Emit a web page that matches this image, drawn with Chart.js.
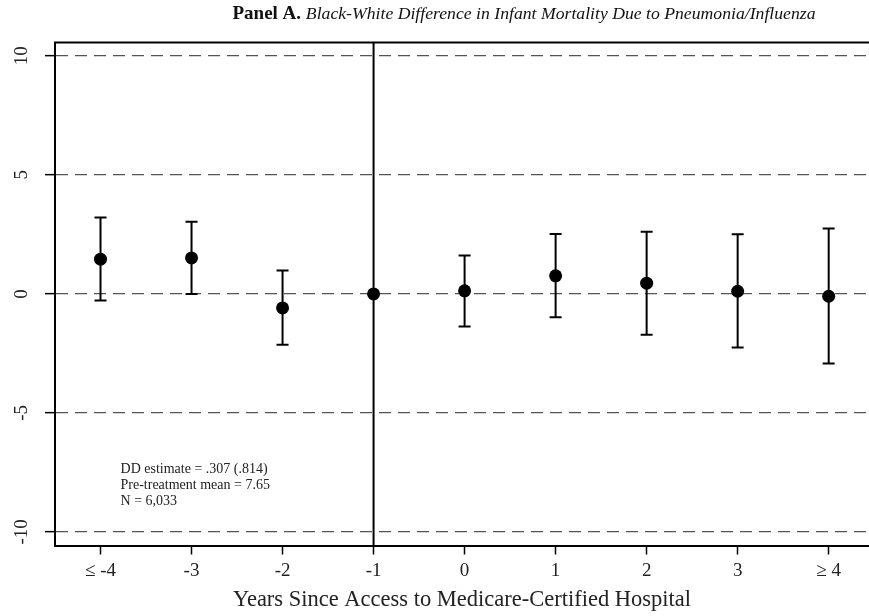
<!DOCTYPE html>
<html>
<head>
<meta charset="utf-8">
<script src="https://cdn.jsdelivr.net/npm/chart.js@4"></script>
<style>
html, body { margin: 0; padding: 0; background: #fff; }
#wrap { width: 869px; height: 616px; }
</style>
</head>
<body>
<div id="wrap"><canvas id="chart" width="869" height="616"></canvas></div>
<script>
const years = [-4, -3, -2, -1, 0, 1, 2, 3, 4];
const yearLabels = ['≤ -4', '-3', '-2', '-1', '0', '1', '2', '3', '≥ 4'];
const estimates = [1.46, 1.51, -0.59, 0, 0.13, 0.76, 0.45, 0.11, -0.10];
const ciLow = [-0.28, 0.0, -2.14, null, -1.37, -0.98, -1.72, -2.25, -2.92];
const ciHigh = [3.21, 3.03, 0.98, null, 1.61, 2.52, 2.61, 2.50, 2.75];
const yTicks = [-10, -5, 0, 5, 10];
const notes = ['DD estimate = .307 (.814)', 'Pre-treatment mean = 7.65', 'N = 6,033'];

const SERIF = "'Liberation Serif', 'DejaVu Serif', serif";

// error bars, the -1 reference line, frame top, rotated y labels, title, notes
const extras = {
    id: 'extras',
    beforeDatasetsDraw(chart) {
        const ctx = chart.ctx;
        const xs = chart.scales.x, ys = chart.scales.y;
        const area = chart.chartArea;
        ctx.save();
        ctx.strokeStyle = '#000';
        ctx.lineWidth = 2;
        // vertical line at -1
        const vx = xs.getPixelForValue(-1);
        ctx.beginPath();
        ctx.moveTo(vx, area.top);
        ctx.lineTo(vx, area.bottom);
        ctx.stroke();
        // confidence intervals
        for (let i = 0; i < years.length; i++) {
            if (ciLow[i] === null) continue;
            const x = xs.getPixelForValue(years[i]);
            const lo = ys.getPixelForValue(ciLow[i]);
            const hi = ys.getPixelForValue(ciHigh[i]);
            ctx.beginPath();
            ctx.moveTo(x, lo); ctx.lineTo(x, hi);
            ctx.moveTo(x - 6, lo); ctx.lineTo(x + 6, lo);
            ctx.moveTo(x - 6, hi); ctx.lineTo(x + 6, hi);
            ctx.stroke();
        }
        ctx.restore();
    },
    afterDraw(chart) {
        const ctx = chart.ctx;
        const xs = chart.scales.x, ys = chart.scales.y;
        const area = chart.chartArea;
        ctx.save();
        // top of the frame
        ctx.strokeStyle = '#000';
        ctx.lineWidth = 2;
        ctx.beginPath();
        ctx.moveTo(area.left - 1, area.top);
        ctx.lineTo(area.right, area.top);
        ctx.stroke();

        // y tick labels, rotated
        ctx.fillStyle = '#222';
        ctx.font = '19px ' + SERIF;
        ctx.textAlign = 'center';
        ctx.textBaseline = 'middle';
        yTicks.forEach(v => {
            ctx.save();
            ctx.translate(22, ys.getPixelForValue(v));
            ctx.rotate(-Math.PI / 2);
            ctx.fillText(String(v), 0, 0);
            ctx.restore();
        });

        // title: bold part + italic part
        const boldPart = 'Panel A. ';
        const italPart = 'Black-White Difference in Infant Mortality Due to Pneumonia/Influenza';
        ctx.textAlign = 'left';
        ctx.textBaseline = 'alphabetic';
        ctx.font = 'bold 19px ' + SERIF;
        const wb = ctx.measureText(boldPart).width;
        ctx.font = 'italic 17.7px ' + SERIF;
        const wi = ctx.measureText(italPart).width;
        let tx = 524 - (wb + wi) / 2;
        ctx.fillStyle = '#111';
        ctx.font = 'bold 19px ' + SERIF;
        ctx.fillText(boldPart, tx, 19);
        ctx.font = 'italic 17.7px ' + SERIF;
        ctx.fillText(italPart, tx + wb, 19);

        // notes
        ctx.fillStyle = '#222';
        ctx.font = '14px ' + SERIF;
        ctx.textBaseline = 'middle';
        const nx = xs.getPixelForValue(-3.78);
        const ny = ys.getPixelForValue(-7.38);
        notes.forEach((t, i) => ctx.fillText(t, nx, ny + i * 15.8));
        ctx.restore();
    }
};

const ctx = document.getElementById('chart').getContext('2d');
new Chart(ctx, {
    type: 'scatter',
    data: {
        datasets: [{
            data: years.map((x, i) => ({ x: x, y: estimates[i] })),
            pointRadius: 6.5,
            pointHoverRadius: 6.5,
            backgroundColor: '#000',
            borderWidth: 0,
            showLine: false
        }]
    },
    options: {
        responsive: false,
        animation: false,
        devicePixelRatio: 1,
        layout: { autoPadding: false, padding: { top: 42.5, right: 0, left: 0, bottom: 0 } },
        plugins: { legend: { display: false }, tooltip: { enabled: false } },
        scales: {
            x: {
                type: 'linear',
                min: -4.5,
                max: 4.443,
                afterBuildTicks: s => { s.ticks = years.map(v => ({ value: v })); },
                afterFit: s => { s.height = 70.5; s.paddingLeft = 0; s.paddingRight = 0; },
                ticks: {
                    callback: v => yearLabels[years.indexOf(v)],
                    font: { family: SERIF, size: 19 },
                    color: '#222',
                    maxRotation: 0,
                    autoSkip: false,
                    padding: 5
                },
                grid: { drawOnChartArea: false, tickLength: 9, tickColor: '#000', tickWidth: 1.5 },
                border: { color: '#000', width: 2 },
                title: {
                    display: true,
                    text: 'Years Since Access to Medicare-Certified Hospital',
                    font: { family: SERIF, size: 22.5 },
                    color: '#222',
                    padding: { top: 0, bottom: 2 }
                }
            },
            y: {
                min: -10.57,
                max: 10.56,
                afterBuildTicks: s => { s.ticks = yTicks.map(v => ({ value: v })); },
                afterFit: s => { s.width = 55; },
                ticks: { display: false },
                grid: {
                    color: '#555',
                    lineWidth: 1.3,
                    tickLength: 10,
                    tickColor: '#000',
                    tickWidth: 1.5,
                    tickBorderDash: []
                },
                border: { color: '#000', width: 2, dash: [12, 7] }
            }
        }
    },
    plugins: [extras]
});
</script>
</body>
</html>
